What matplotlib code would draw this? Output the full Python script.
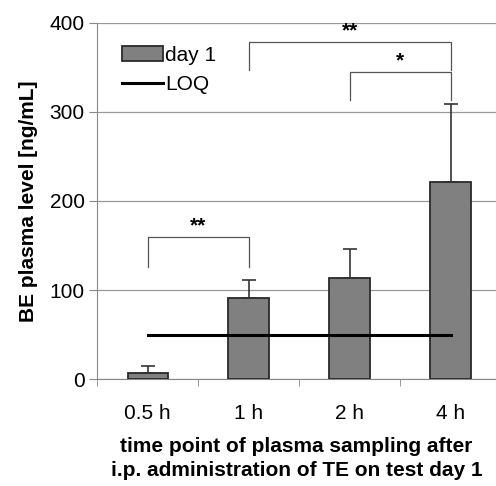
import numpy as np
import matplotlib.pyplot as plt

categories = ["0.5 h", "1 h", "2 h", "4 h"]
means = [7, 91, 113, 221]
errors = [8, 20, 33, 88]
loq = 50
# significance brackets: (left index, right index, top, leg bottom left, leg bottom right, label)
brackets = [
    (0, 1, 159, 126, 126, "**"),
    (1, 3, 378, 347, 347, "**"),
    (2, 3, 345, 313, 313, "*"),
]

plt.rcParams['font.family'] = ['Liberation Sans', 'DejaVu Sans']

fig = plt.figure(figsize=(4.96, 4.86), dpi=100)
ax = fig.add_axes([0.196, 0.220, 0.804, 0.733])

x = np.arange(len(categories))
bars = ax.bar(x, means, width=0.4, color='#808080', edgecolor='#2a2a2a', linewidth=1.3,
              zorder=3)
ax.errorbar(x, means, yerr=[np.zeros(len(errors)), errors], fmt='none',
            ecolor='#333333', elinewidth=1.2, capsize=5, capthick=1.2, zorder=4)
line, = ax.plot([x[0], x[-1]], [loq, loq], color='black', linewidth=2.2, zorder=5)

for i, j, top, bl, br, lab in brackets:
    ax.plot([x[i], x[i], x[j], x[j]], [bl, top, top, br], color='#555555',
            linewidth=0.9, zorder=5)
    ax.text((x[i] + x[j]) / 2, top + 2, lab, ha='center', va='bottom',
            fontsize=15, fontweight='bold')

ax.set_xlim(-0.5, 3.45)
ax.set_ylim(0, 400)
ax.set_yticks([0, 100, 200, 300, 400])
ax.yaxis.grid(True, color='#999999', linewidth=0.9, zorder=0)
ax.set_xticks(x)
ax.set_xticklabels(categories, fontsize=15)
ax.set_xticks(np.arange(-0.5, 3.5, 1), minor=True)
ax.tick_params(axis='x', which='major', length=0, pad=18)
ax.tick_params(axis='x', which='minor', length=5, color='#888888')
ax.tick_params(axis='y', labelsize=15, length=6, color='#888888', pad=3)
for s in ['top', 'right']:
    ax.spines[s].set_visible(False)
for s in ['left', 'bottom']:
    ax.spines[s].set_color('#888888')

ax.set_ylabel('BE plasma level [ng/mL]', fontsize=15, fontweight='bold', labelpad=8)
ax.set_xlabel('time point of plasma sampling after\ni.p. administration of TE on test day 1',
              fontsize=15, fontweight='bold', labelpad=10, linespacing=1.35)

ax.legend([bars, line], ['day 1', 'LOQ'], loc='upper left', bbox_to_anchor=(0.03, 0.97),
          frameon=False, fontsize=15, handlelength=2.0, handletextpad=0.1,
          labelspacing=0.5, borderaxespad=0.2)

fig.savefig('out.png', dpi=100)
